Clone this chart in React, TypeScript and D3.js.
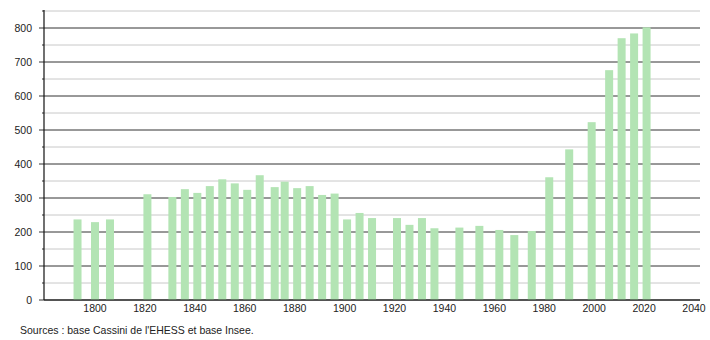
import React from "react";
import * as d3 from "d3";

const years = [1793, 1800, 1806, 1821, 1831, 1836, 1841, 1846, 1851, 1856, 1861, 1866, 1872, 1876, 1881, 1886, 1891, 1896, 1901, 1906, 1911, 1921, 1926, 1931, 1936, 1946, 1954, 1962, 1968, 1975, 1982, 1990, 1999, 2006, 2011, 2016, 2021];
const population = [237, 229, 237, 311, 303, 326, 315, 335, 355, 343, 324, 367, 332, 348, 329, 335, 309, 313, 237, 256, 241, 241, 221, 241, 211, 213, 218, 206, 191, 203, 361, 443, 523, 676, 770, 784, 802];
const xTicks = [1800, 1820, 1840, 1860, 1880, 1900, 1920, 1940, 1960, 1980, 2000, 2020, 2040];
const yMajor = [0, 100, 200, 300, 400, 500, 600, 700, 800];
const yMinor = [50, 150, 250, 350, 450, 550, 650, 750, 850];
const sourceText = "Sources : base Cassini de l'EHESS et base Insee.";

export default function App() {
  const left = 44;
  const right = 700;
  const x = d3.scaleLinear().domain([1800, 2040]).range([95, 694]);
  const y = d3.scaleLinear().domain([0, 850]).range([300, 11]);
  const barW = 8;
  const font = "'Liberation Sans', Arial, sans-serif";
  return (
    <svg width={710} height={340} style={{ position: "absolute", left: 0, top: 0, background: "#fff" }}>
      {yMinor.map((v) => (
        <g key={"mi" + v}>
          <line x1={left} x2={right} y1={y(v)} y2={y(v)} stroke="#c8c8c8" strokeWidth={1} />
          <line x1={left - 2} x2={left} y1={y(v)} y2={y(v)} stroke="#333" strokeWidth={1} />
        </g>
      ))}
      {yMajor.map((v) => (
        <g key={"ma" + v}>
          <line x1={left - 5} x2={right} y1={y(v)} y2={y(v)} stroke="#333" strokeWidth={1} />
          <text x={32} y={y(v)} dy="0.35em" textAnchor="end" fontSize={10.5} fontFamily={font} fill="#222">{v}</text>
        </g>
      ))}
      {years.map((yr, i) => (
        <rect key={yr} x={x(yr) - barW / 2} y={y(population[i])} width={barW} height={y(0) - y(population[i])} fill="#b3e4b4" />
      ))}
      <line x1={left} x2={left} y1={y(850) - 1} y2={y(0)} stroke="#111" strokeWidth={1.2} />
      <line x1={left} x2={right} y1={y(0)} y2={y(0)} stroke="#111" strokeWidth={1.2} />
      {xTicks.map((t) => (
        <text key={t} x={x(t)} y={312} textAnchor="middle" fontSize={10.5} fontFamily={font} fill="#222">{t}</text>
      ))}
      <text x={20} y={334} fontSize={10.5} fontFamily={font} fill="#222">{sourceText}</text>
    </svg>
  );
}
